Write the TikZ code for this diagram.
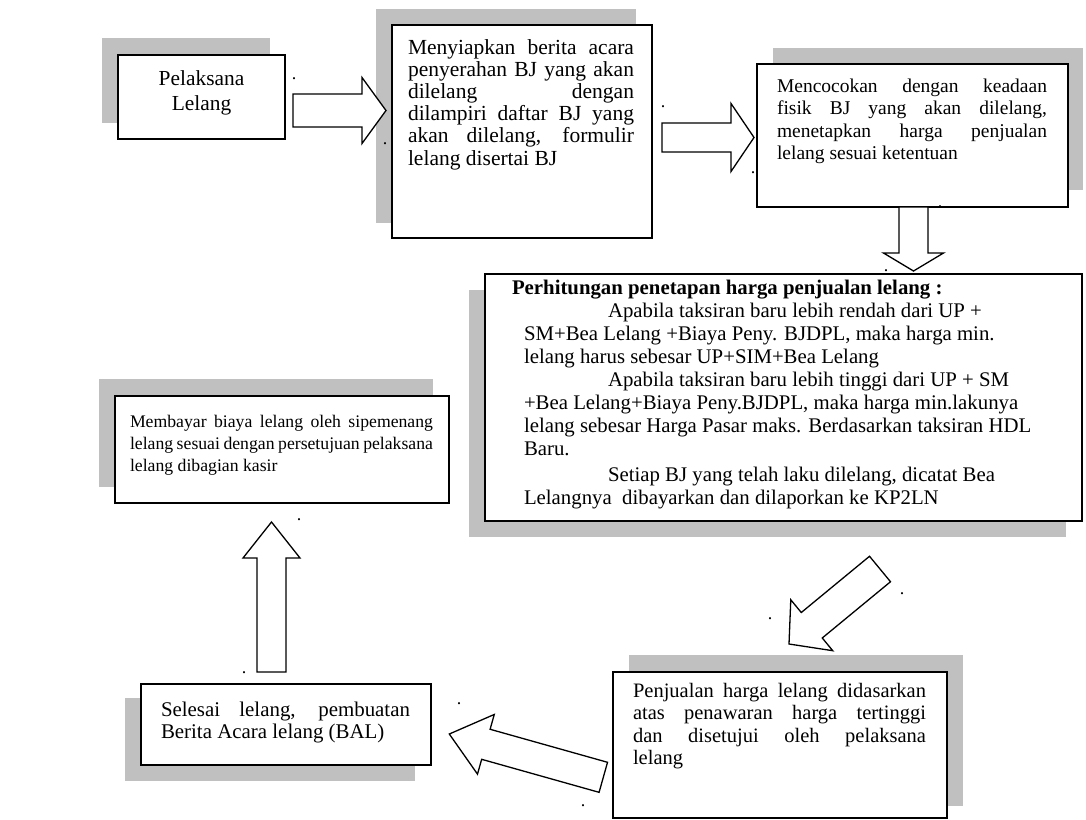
\documentclass[tikz,border=0pt]{standalone}
\usepackage{fontspec}
\setmainfont{Liberation Serif}
\usetikzlibrary{calc}
\definecolor{shadowgrey}{HTML}{C0C0C0}
% #1 tail coordinate, #2 tip coordinate, #3 shaft half width, #4 head half width, #5 head length
\newcommand\blockarrow[5]{%
  \path ($(#2)!#5!(#1)$) coordinate (ba-h);
  \draw[barrow] ($(#1)!#3!90:(#2)$) -- ($(ba-h)!#3!90:(#2)$) -- ($(ba-h)!#4!90:(#2)$)
    -- (#2) -- ($(ba-h)!#4!-90:(#2)$) -- ($(ba-h)!#3!-90:(#2)$) -- ($(#1)!#3!-90:(#2)$) -- cycle;
}
\begin{document}
\begin{tikzpicture}[x=1pt,y=-1pt,
  box/.style={draw=black, line width=1.6pt, fill=white, inner sep=0pt, outer sep=0pt},
  sh/.style={fill=shadowgrey},
  barrow/.style={draw=black, line width=1.3pt, fill=white, line join=miter},
  txt/.style={inner sep=0pt, outer sep=0pt, anchor=base west},
  dotmark/.style={inner sep=0pt, outer sep=0pt, anchor=base, font=\fontsize{18}{18}\selectfont}]
\useasboundingbox (0,0) rectangle (1086,819);

% shadows
\fill[sh] (102,38) rectangle (270,123);
\fill[sh] (376,9) rectangle (636,223);
\fill[sh] (773,48) rectangle (1083,190);
\fill[sh] (469,290) rectangle (1066,537);
\fill[sh] (99,379) rectangle (433,487);
\fill[sh] (125,698) rectangle (415,781);
\fill[sh] (629,655) rectangle (963,806);

% boxes
\node[box, minimum width=167pt, minimum height=84pt]  (b1) at (201.5,97) {};
\node[box, minimum width=260pt, minimum height=213pt] (b2) at (522,131.5) {};
\node[box, minimum width=311pt, minimum height=143pt] (b3) at (912.5,135.5) {};
\node[box, minimum width=597pt, minimum height=247pt] (b4) at (783.5,397.5) {};
\node[box, minimum width=334pt, minimum height=107pt] (b5) at (282,449.5) {};
\node[box, minimum width=290pt, minimum height=81pt]  (b6) at (286,724.5) {};
\node[box, minimum width=334pt, minimum height=146pt] (b7) at (780,745) {};

% texts
\node[txt, anchor=base, font=\fontsize{21.4}{25}\selectfont] (t1) at (201.5,85)
  {\parbox[t]{140pt}{\centering Pelaksana\\Lelang}};
\node[txt, font=\fontsize{21.5}{22.2}\selectfont] (t2) at (408,54)
  {\parbox[t]{226pt}{%
  \makebox[\linewidth][s]{Menyiapkan berita acara}\\
  \makebox[\linewidth][s]{penyerahan BJ yang akan}\\
  \makebox[\linewidth][s]{dilelang dengan}\\
  \makebox[\linewidth][s]{dilampiri daftar BJ yang}\\
  \makebox[\linewidth][s]{akan dilelang, formulir}\\
  lelang disertai BJ}};
\node[txt, font=\fontsize{19.5}{22.5}\selectfont] (t3) at (777,92)
  {\parbox[t]{270pt}{%
  \makebox[\linewidth][s]{Mencocokan dengan keadaan}\\
  \makebox[\linewidth][s]{fisik BJ yang akan dilelang,}\\
  \makebox[\linewidth][s]{menetapkan harga penjualan}\\
  lelang sesuai ketentuan}};
\node[txt, font=\fontsize{20.8}{23}\selectfont] (t4) at (512,294)
  {\parbox[t]{570pt}{\raggedright
  \textbf{Perhitungan penetapan harga penjualan lelang :}\\
  \hspace*{96pt}Apabila taksiran baru lebih rendah dari UP +\\
  \hspace*{12pt}SM+Bea Lelang +Biaya Peny. BJDPL, maka harga min.\\
  \hspace*{12pt}lelang harus sebesar UP+SIM+Bea Lelang\\
  \hspace*{96pt}Apabila taksiran baru lebih tinggi dari UP + SM\\
  \hspace*{12pt}+Bea Lelang+Biaya Peny.BJDPL, maka harga min.lakunya\\
  \hspace*{12pt}lelang sebesar Harga Pasar maks. Berdasarkan taksiran HDL\\
  \hspace*{12pt}Baru.\\[3pt]
  \hspace*{96pt}Setiap BJ yang telah laku dilelang, dicatat Bea\\
  \hspace*{12pt}Lelangnya\ \ dibayarkan dan dilaporkan ke KP2LN}};
\node[txt, font=\fontsize{17.7}{22}\selectfont] (t5) at (130,427)
  {\parbox[t]{303pt}{%
  \makebox[\linewidth][s]{Membayar biaya lelang oleh sipemenang}\\
  \makebox[\linewidth][s]{lelang sesuai dengan persetujuan pelaksana}\\
  lelang dibagian kasir}};
\node[txt, font=\fontsize{20.9}{22.5}\selectfont] (t6) at (161,716)
  {\parbox[t]{249pt}{%
  \makebox[\linewidth][s]{Selesai lelang, pembuatan}\\
  Berita Acara lelang (BAL)}};
\node[txt, font=\fontsize{20.5}{22.5}\selectfont] (t7) at (633,697)
  {\parbox[t]{293pt}{%
  \makebox[\linewidth][s]{Penjualan harga lelang didasarkan}\\
  \makebox[\linewidth][s]{atas penawaran harga tertinggi}\\
  \makebox[\linewidth][s]{dan disetujui oleh pelaksana}\\
  lelang}};

% connector end points
\coordinate (a1t) at ($(b1.east)+(8,13.5)$);
\coordinate (a1h) at ($(b2.west)+(-6,-21)$);
\coordinate (a2t) at ($(b2.east)+(10,6)$);
\coordinate (a2h) at ($(b3.west)+(-3,2)$);
\coordinate (a3t) at ($(b3.south)+(1,0)$);
\coordinate (a3h) at ($(b4.north)+(130,-3)$);
\coordinate (a4t) at ($(b4.south)+(96.5,48)$);
\coordinate (a4h) at ($(b7.north)+(9,-28)$);
\coordinate (a5t) at ($(b7.west)+(-9.7,32.3)$);
\coordinate (a5h) at ($(b6.east)+(18.3,9.5)$);
\coordinate (a6t) at ($(b6.north)+(-14.5,-12)$);
\coordinate (a6h) at ($(b5.south)+(-10.5,19)$);

% block arrows
\blockarrow{a1t}{a1h}{16.5pt}{33pt}{24pt}
\blockarrow{a2t}{a2h}{14.5pt}{34pt}{23pt}
\blockarrow{a3t}{a3h}{14.5pt}{30pt}{18pt}
\blockarrow{a4t}{a4h}{16.5pt}{33pt}{29.5pt}
\blockarrow{a5t}{a5h}{15.6pt}{31pt}{38pt}
\blockarrow{a6t}{a6h}{14.5pt}{28.5pt}{36pt}

% stray dots
\foreach \px/\py [count=\i] in {294/78, 385/143, 663/106, 753/172, 940/206, 886/270,
    902/593, 770/618, 583/805, 459/703, 244/672, 299/519}
  \node[dotmark] (d\i) at (\px,\py+1) {.};
\end{tikzpicture}
\end{document}
